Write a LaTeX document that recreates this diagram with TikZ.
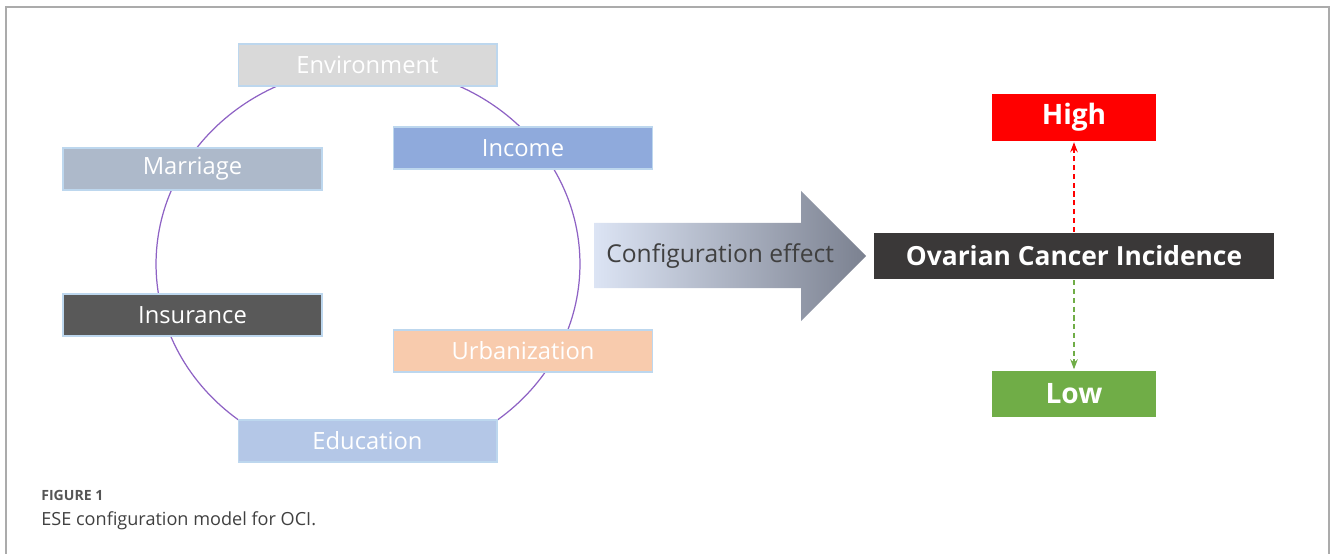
\documentclass[tikz,border=0pt]{standalone}
\usepackage{fontspec}
\setmainfont{Open Sans}
\usetikzlibrary{arrows.meta}
\definecolor{framegray}{HTML}{ABABAB}
\definecolor{ringpurple}{HTML}{8E62C4}
\definecolor{edgeblue}{HTML}{BDD7EE}
\definecolor{envfill}{HTML}{D9D9D9}
\definecolor{incomefill}{HTML}{8FAADC}
\definecolor{marriagefill}{HTML}{ADB9CA}
\definecolor{insurancefill}{HTML}{595959}
\definecolor{urbanfill}{HTML}{F8CBAD}
\definecolor{educationfill}{HTML}{B4C7E7}
\definecolor{arrowlight}{HTML}{DCE4F4}
\definecolor{arrowdark}{HTML}{7B8190}
\definecolor{ocifill}{HTML}{3A3838}
\definecolor{highred}{HTML}{FF0000}
\definecolor{lowgreen}{HTML}{70AD47}
\definecolor{textgray}{HTML}{404040}
\definecolor{capgray}{HTML}{555555}
\begin{document}
\begin{tikzpicture}[x=0.02cm, y=-0.02cm, >=Stealth,
  factor/.style={draw=edgeblue, line width=0.6pt, minimum width=5.18cm,
    minimum height=0.84cm, inner sep=0pt, text=white,
    font=\fontsize{13.5}{15}\selectfont},
  level/.style={minimum width=3.28cm, minimum height=0.94cm, inner sep=0pt,
    text=white, font=\bfseries\fontsize{16}{18}\selectfont},
  link/.style={->, line width=0.6pt, dash pattern=on 3pt off 2pt,
    shorten >=0.5pt, shorten <=0.5pt}]
\useasboundingbox (0,0) rectangle (1330,554);
\draw[framegray, line width=1.2pt] (6,554) -- (6,7) -- (1329,7) -- (1329,554);
% ring of factors
\draw[ringpurple, line width=0.7pt] (368,264) ellipse (4.24cm and 3.94cm);
\node[factor, fill=envfill] (env) at (367.5,65) {Environment};
\node[factor, fill=incomefill] (income) at (523,148) {Income};
\node[factor, fill=marriagefill] (marriage) at (192.5,169) {Marriage};
\node[factor, fill=insurancefill] (insurance) at (192.5,315) {Insurance};
\node[factor, fill=urbanfill] (urban) at (523,351) {Urbanization};
\node[factor, fill=educationfill] (education) at (367.5,441) {Education};
% configuration effect
\shade[left color=arrowlight, right color=arrowdark]
  (594,223) -- (801,223) -- (801,191) -- (866,256) -- (801,321)
  -- (801,288) -- (594,288) -- cycle;
\node[text=textgray, font=\fontsize{14}{16}\selectfont, anchor=west,
  inner sep=0pt] (effect) at (606,256) {Configuration effect};
% outcome
\node[fill=ocifill, minimum width=8cm, minimum height=0.92cm, inner sep=0pt,
  text=white, font=\bfseries\fontsize{15}{17}\selectfont] (oci)
  at (1074,256) {Ovarian Cancer Incidence};
\node[level, fill=highred] (high) at (1074,117.5) {High};
\node[level, fill=lowgreen] (low) at (1074,394) {Low};
\draw[link, highred] (oci) -- (high);
\draw[link, lowgreen] (oci) -- (low);
% caption
\node[anchor=base west, inner sep=0pt, text=capgray,
  font=\bfseries\fontsize{8}{10}\selectfont] (figno) at (41,500) {FIGURE 1};
\node[anchor=base west, inner sep=0pt, text=textgray,
  font=\fontsize{10.3}{12}\selectfont] (caption) at (41,525)
  {ESE configuration model for OCI.};
\end{tikzpicture}
\end{document}
